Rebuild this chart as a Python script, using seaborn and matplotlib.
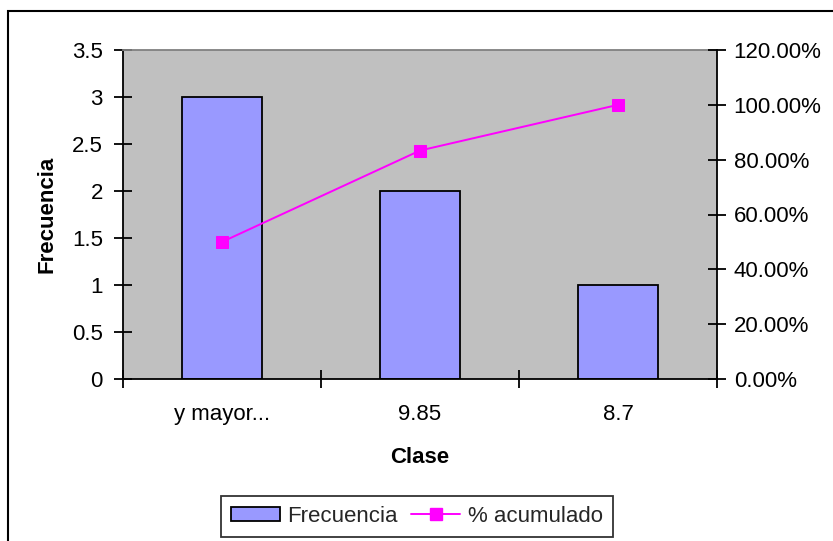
import numpy as np
import pandas as pd
import matplotlib
matplotlib.use("Agg")
import matplotlib.pyplot as plt
import matplotlib.ticker as mticker
from matplotlib.patches import Rectangle, Patch
from matplotlib.lines import Line2D
import seaborn as sns

# Pareto data
clases = ["y mayor...", "9.85", "8.7"]
frecuencia = [3, 2, 1]
acumulado = [50.0, 83.33, 100.0]

sns.set_theme(style="white")
plt.rcParams["font.family"] = ["Liberation Sans", "DejaVu Sans"]

BAR = "#9999FF"
GREY = "#C0C0C0"
MAG = "#FF00FF"
FS = 16

fig = plt.figure(figsize=(8.33, 5.41), dpi=100)
ax = fig.add_axes([123 / 833, 1 - 379 / 541, (717 - 123) / 833, (379 - 50) / 541])
ax.set_facecolor(GREY)

df = pd.DataFrame({"Clase": clases, "Frecuencia": frecuencia})
sns.barplot(data=df, x="Clase", y="Frecuencia", ax=ax, color=BAR, width=0.4,
            edgecolor="black", linewidth=1.3, saturation=1, zorder=2)
ax.set_xlim(-0.5, len(clases) - 0.5)
ax.set_ylim(0, 3.5)
ax.yaxis.set_major_locator(mticker.MultipleLocator(0.5))
ax.yaxis.set_major_formatter(mticker.FuncFormatter(lambda v, p: f"{v:g}"))

# category boundary ticks
ax.set_xticks(np.arange(len(clases)))
ax.set_xticklabels(clases)
ax.set_xticks(np.arange(len(clases) + 1) - 0.5, minor=True)
ax.tick_params(axis="x", which="major", length=0, pad=18, labelsize=FS, colors="black")
ax.tick_params(axis="x", which="minor", bottom=True, direction="inout", length=13, width=1.3, color="black")
ax.tick_params(axis="y", left=True, direction="inout", length=13, width=1.3,
               labelsize=FS, colors="black", pad=8)

for s in ["left", "bottom"]:
    ax.spines[s].set_color("black")
    ax.spines[s].set_linewidth(1.3)
ax.spines["top"].set_color("#808080")
ax.spines["top"].set_linewidth(1.3)
ax.spines["right"].set_visible(False)

ax.set_xlabel("Clase", fontsize=FS, fontweight="bold", labelpad=16, color="black")
ax.set_ylabel("Frecuencia", fontsize=FS, fontweight="bold", labelpad=10, color="black")

ax2 = ax.twinx()
sns.lineplot(x=np.arange(len(clases)), y=acumulado, ax=ax2, color=MAG, linewidth=1.4,
             marker="s", markersize=8, markeredgecolor=MAG, zorder=3)
ax2.set_ylim(0, 120)
ax2.yaxis.set_major_locator(mticker.MultipleLocator(20))
ax2.yaxis.set_major_formatter(mticker.FuncFormatter(lambda v, p: f"{v:.2f}%"))
ax2.tick_params(axis="y", right=True, direction="inout", length=13, width=1.3,
                labelsize=FS, colors="black", pad=5.5)
for s in ["left", "top", "bottom"]:
    ax2.spines[s].set_visible(False)
ax2.spines["right"].set_color("black")
ax2.spines["right"].set_linewidth(1.3)
ax2.set_ylabel("")

# chart frame
fig.patches.append(Rectangle((8 / 833, -0.1), 1.0, 1 - 11 / 541 + 0.1,
                             transform=fig.transFigure, fill=False,
                             edgecolor="black", linewidth=1.5))

handles = [Patch(facecolor=BAR, edgecolor="black", linewidth=1.3),
           Line2D([0], [0], color=MAG, linewidth=1.4, marker="s", markersize=8)]
leg = fig.legend(handles, ["Frecuencia", "% acumulado"], loc="center",
                 bbox_to_anchor=(417 / 833, 1 - 516 / 541), ncol=2, frameon=True,
                 fancybox=False, edgecolor="black", fontsize=FS, handlelength=2.2,
                 handleheight=0.6, handletextpad=0.35, columnspacing=0.6, borderpad=0.45)
leg.get_frame().set_linewidth(1.3)

fig.savefig("out.png", dpi=100, facecolor="white")
